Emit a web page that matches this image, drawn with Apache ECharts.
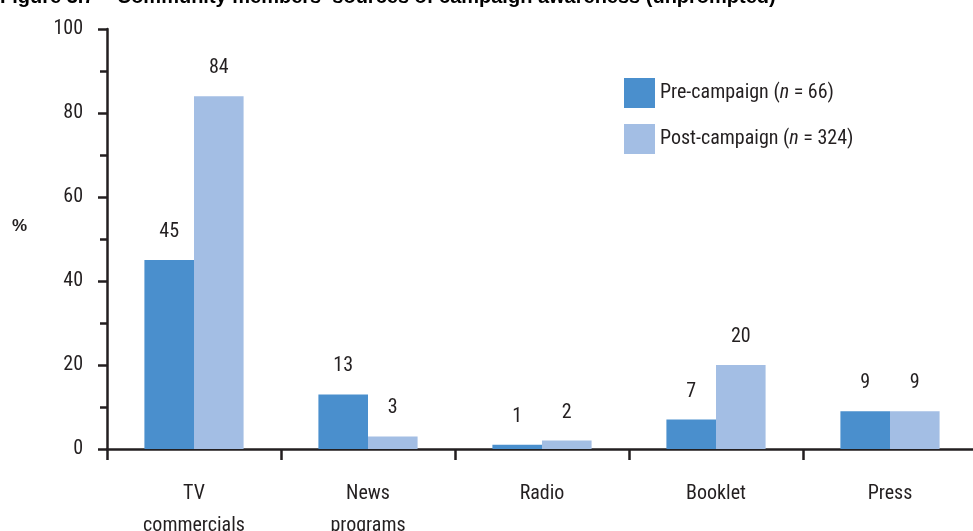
<!DOCTYPE html>
<html>
<head>
<meta charset="utf-8">
<script src="https://cdn.jsdelivr.net/npm/echarts@6/dist/echarts.min.js"></script>
<style>
  html, body { margin: 0; padding: 0; background: #ffffff; }
  #chart { width: 973px; height: 531px; }
</style>
</head>
<body>
<div id="chart"></div>
<script>
// Sources of campaign awareness, percent of respondents
const categories = ['TV\ncommercials', 'News\nprograms', 'Radio', 'Booklet', 'Press'];
const preCampaign = [45, 13, 1, 7, 9];
const postCampaign = [84, 3, 2, 20, 9];
const seriesNames = ['Pre-campaign', 'Post-campaign'];
const sampleSizes = [66, 324];
const titleText = 'Figure 3.7    Community members\u2019 sources of campaign awareness (unprompted)';

const NARROW = '"Liberation Sans Narrow", "Roboto Condensed", "Arial Narrow", sans-serif';
const INK = '#231f20';
const PRE_COLOR = '#4a8fcd';
const POST_COLOR = '#a3bee4';

const chart = echarts.init(document.getElementById('chart'));

const labelStyle = {
  show: true,
  position: 'top',
  distance: 18,
  fontFamily: NARROW,
  fontSize: 20,
  color: INK
};

chart.setOption({
  animation: false,
  backgroundColor: '#ffffff',
  graphic: [
    {
      type: 'text',
      left: 0,
      top: -13,
      style: {
        text: titleText,
        font: 'bold 20px "Liberation Sans", Arial, sans-serif',
        fill: '#000000'
      }
    },
    {
      type: 'text',
      x: 12,
      y: 226,
      style: {
        text: '%',
        font: 'bold 17px "Liberation Sans", Arial, sans-serif',
        fill: INK,
        verticalAlign: 'middle'
      }
    }
  ],
  legend: {
    orient: 'vertical',
    left: 619,
    top: 73,
    itemWidth: 31,
    itemHeight: 30,
    itemGap: 16,
    icon: 'rect',
    data: seriesNames,
    formatter: function (name) {
      const n = sampleSizes[seriesNames.indexOf(name)];
      return '{a|' + name + ' (}{i|n}{a| = ' + n + ')}';
    },
    textStyle: {
      rich: {
        a: { fontFamily: NARROW, fontSize: 20, color: INK },
        i: { fontFamily: NARROW, fontSize: 20, fontStyle: 'italic', color: INK }
      }
    }
  },
  grid: { left: 107, right: -4, top: 29, bottom: 82, containLabel: false, outerBoundsMode: 'none' },
  xAxis: {
    type: 'category',
    data: categories,
    axisLine: { lineStyle: { color: INK, width: 2.5 } },
    axisTick: { show: true, inside: false, length: 11, lineStyle: { color: INK, width: 2.5 } },
    axisLabel: {
      margin: 29,
      fontFamily: NARROW,
      fontSize: 20,
      lineHeight: 32,
      color: INK
    }
  },
  yAxis: {
    type: 'value',
    min: 0,
    max: 100,
    interval: 20,
    axisLine: { show: true, lineStyle: { color: INK, width: 2.5 } },
    axisTick: { show: true, length: 9, lineStyle: { color: INK, width: 2.5 } },
    minorTick: { show: true, splitNumber: 2, length: 7, lineStyle: { color: INK, width: 2.5 } },
    splitLine: { show: false },
    axisLabel: {
      margin: 24,
      fontFamily: NARROW,
      fontSize: 20,
      color: INK
    }
  },
  series: [
    {
      name: seriesNames[0],
      type: 'bar',
      data: preCampaign,
      barGap: '0%',
      barCategoryGap: '43%',
      itemStyle: { color: PRE_COLOR },
      label: labelStyle
    },
    {
      name: seriesNames[1],
      type: 'bar',
      data: postCampaign,
      itemStyle: { color: POST_COLOR },
      label: labelStyle
    }
  ]
});
</script>
</body>
</html>
